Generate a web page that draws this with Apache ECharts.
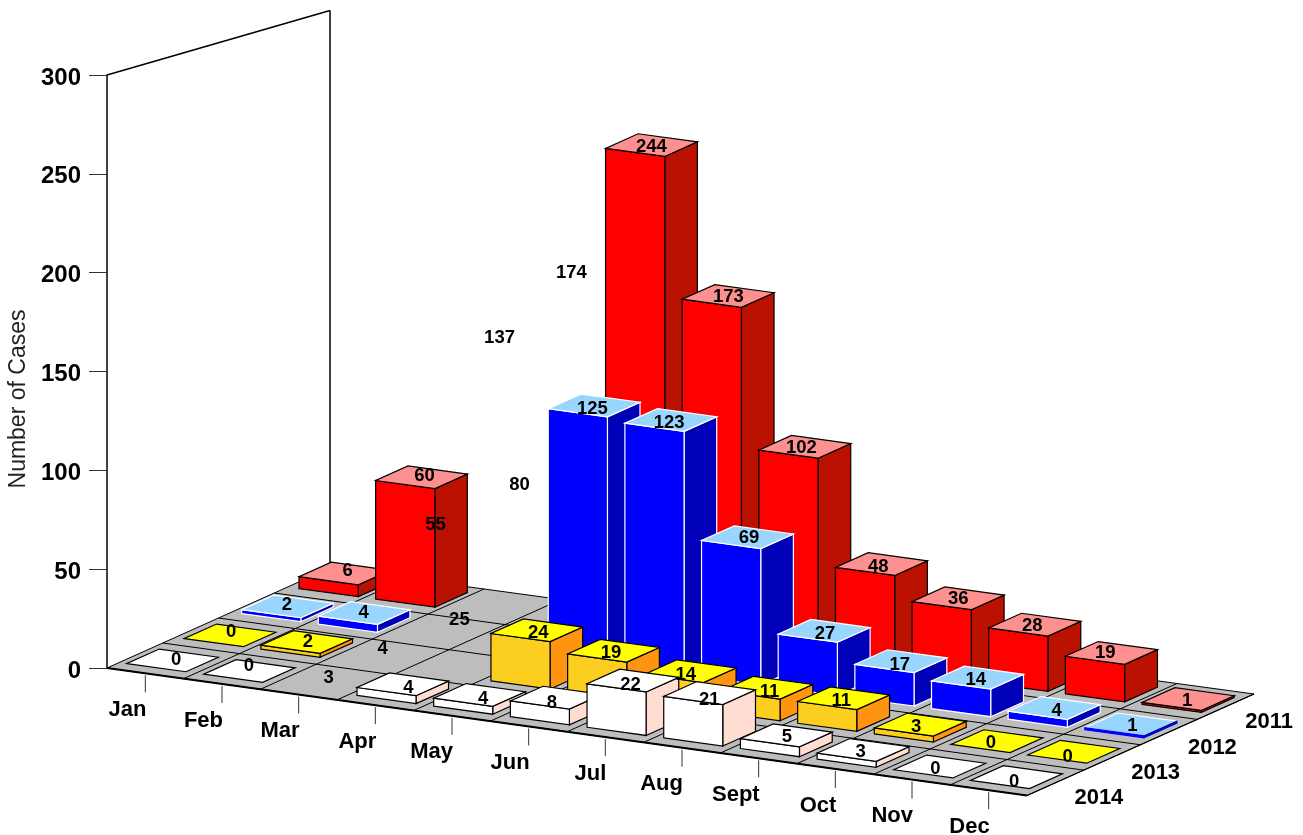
<!DOCTYPE html>
<html><head><meta charset="utf-8">
<style>html,body{margin:0;padding:0;background:#fff}#c{width:1303px;height:835px}</style>
<script src="https://cdn.jsdelivr.net/npm/echarts@6/dist/echarts.min.js"></script>
</head><body><div id="c"></div>
<script>
const months = ['Jan','Feb','Mar','Apr','May','Jun','Jul','Aug','Sept','Oct','Nov','Dec'];
const years = ['2014','2013','2012','2011'];
const valueTicks = [0,50,100,150,200,250,300];
const cases2011 = [6,60,137,174,244,173,102,48,36,28,19,1];
const cases2012 = [2,4,55,80,125,123,69,27,17,14,4,1];
const cases2013 = [0,2,4,25,24,19,14,11,11,3,0,0];
const cases2014 = [0,0,3,4,4,8,22,21,5,3,0,0];
// months whose bar is absent in the picture (only the value label is shown)
const noBar2011 = [2,3];
const noBar2012 = [2,3];
const noBar2013 = [2,3];
const noBar2014 = [2];

const FONT = '"Liberation Sans", Arial, sans-serif';
const rowsData = [cases2014, cases2013, cases2012, cases2011];
const rowsNoBar = [noBar2014, noBar2013, noBar2012, noBar2011];
// small label placement corrections, per row and month (layout only)
const labelDx = [
  [3,-1,2,5,3,-5,-3,-1,0,-3,-5,-3],
  [2,2,0,0,2,-2,-4,3,-2,-4,-6,-6],
  [2,2,-3,4,0,0,3,2,0,-1,3,2],
  [7,7,5,0,3,3,-1,-1,2,-1,-5,0]
];
const labelDy = [
  [-2,-7,0,2,2,3,2,5,0,0,0,3],
  [-5,-2,-2,0,1,0,2,2,1,0,0,3],
  [-3,-2,0,-1,2,1,-1,1,2,0,1,0],
  [-4,-3,0,-2,0,-1,-1,1,-1,-1,-2,0]
];
const skins = [
  {front:'#ffffff', side:'#ffddd0', top:'#ffffff', edge:'#000000'},
  {front:'#fbce20', side:'#ff9411', top:'#ffff00', edge:'#000000'},
  {front:'#0000ff', side:'#0000b8', top:'#99d6ff', edge:'#ffffff'},
  {front:'#ff0000', side:'#bb1100', top:'#ff9090', edge:'#000000'}
];
const BAR = {m0:0.10, m1:0.87, d0:0.22, d1:0.80};
const WALL_TOP = 282;

// oblique projection built on the cartesian axes (x = month, y = cases)
function project(api, m, d, v){
  const c = api.coord([m, v]);
  const base = api.coord([0, 0]);
  const t = m / 12;
  return [
    c[0] + d * (55.75 + t),
    c[1] + (c[0] - base[0]) * 0.1386 - d * (25 + 0.375 * t)
  ];
}
function poly(points, fill, stroke, lw){
  return {type:'polygon', shape:{points}, style:{fill, stroke, lineWidth:lw}};
}
function seg(a, b, stroke, lw){
  return {type:'line', shape:{x1:a[0],y1:a[1],x2:b[0],y2:b[1]}, style:{stroke, lineWidth:lw, fill:null}};
}

const barItems = [], labelItems = [];
rowsData.map((vals, d) => [vals, d]).reverse().forEach(([vals, d]) => {
  vals.forEach((v, m) => {
    if (!rowsNoBar[d].includes(m)) barItems.push([m, v, d]);
    labelItems.push([m, v, d]);
  });
});

function renderFloor(params, api){
  const P = (m, d, v) => project(api, m, d, v || 0);
  const kids = [poly([P(0,0),P(12,0),P(12,4),P(0,4)], '#bdbdbd', '#000', 1)];
  for (let i = 1; i < 12; i++) kids.push(seg(P(i,0),P(i,4),'#000',1));
  for (let j = 1; j < 4; j++) kids.push(seg(P(0,j),P(12,j),'#000',1));
  kids.push(seg(P(0,0),P(12,0),'#000',2));
  kids.push(seg(P(12,0),P(12,4),'#000',1.2));
  // back wall outline
  kids.push(seg(P(0,0,300),P(0,4,WALL_TOP),'#000',1.5));
  kids.push(seg(P(0,4,0),P(0,4,WALL_TOP),'#000',1.5));
  return {type:'group', children:kids};
}
function renderBar(params, api){
  const m = api.value(0), v = api.value(1), d = api.value(2);
  const s = skins[d];
  const x0 = m + BAR.m0, x1 = m + BAR.m1, z0 = d + BAR.d0, z1 = d + BAR.d1;
  const skew = d * (1.6 - 0.1 * m);
  const P = (a, b, h) => { const p = project(api, a, b, h); return [p[0] + skew, p[1]]; };
  const thin = v > 0 && v < 2 && s.edge === '#ffffff';
  const top = poly([P(x0,z0,v),P(x1,z0,v),P(x1,z1,v),P(x0,z1,v)], s.top, s.edge, 1.2);
  const kids = [];
  if (thin) kids.push(top);
  if (v > 0) {
    kids.push(poly([P(x1,z0,0),P(x1,z1,0),P(x1,z1,v),P(x1,z0,v)], s.side, thin ? s.side : s.edge, 1.2));
    kids.push(poly([P(x0,z0,0),P(x1,z0,0),P(x1,z0,v),P(x0,z0,v)], s.front, thin ? s.front : s.edge, 1.2));
  }
  if (!thin) kids.push(top);
  return {type:'group', children:kids};
}
function renderValue(params, api){
  const m = api.value(0), v = api.value(1), d = api.value(2);
  const p = project(api, m + 0.5, d + 0.5, v);
  return {type:'text', style:{x:p[0] + labelDx[d][m], y:p[1] + 1.5 + labelDy[d][m], text:String(v), fill:'#000',
    font:'bold 18.5px '+FONT, align:'center', verticalAlign:'middle'}};
}
function renderMonth(params, api){
  const i = api.value(0);
  const e = project(api, i + 0.5, 0, 0);
  return {type:'group', children:[
    seg([e[0], e[1]+2],[e[0], e[1]+19],'#333',1),
    {type:'text', style:{x:e[0]+1, y:e[1]+36.5, text:months[i], fill:'#000',
      font:'bold 22px '+FONT, align:'right', verticalAlign:'middle'}}
  ]};
}
function renderYear(params, api){
  const j = api.value(0);
  const e = project(api, 12, j + 0.5, 0);
  return {type:'text', style:{x:e[0]+43.5, y:e[1]+15.5, text:years[j], fill:'#000',
    font:'bold 22px '+FONT, align:'center', verticalAlign:'middle'}};
}

const chart = echarts.init(document.getElementById('c'), null, {renderer:'canvas'});
chart.setOption({
  animation:false,
  backgroundColor:'#ffffff',
  grid:{left:107, top:75, width:920, height:593, containLabel:false},
  xAxis:{type:'value', min:0, max:12, interval:1, show:false},
  yAxis:{type:'value', min:0, max:300, interval:50,
    splitLine:{show:false},
    axisLine:{show:true, onZero:false, lineStyle:{color:'#000', width:1.5}},
    axisTick:{show:true, length:18, lineStyle:{color:'#333', width:1}},
    axisLabel:{margin:26, color:'#000', fontFamily:FONT, fontWeight:'bold', fontSize:24,
      verticalAlign:'top', lineHeight:6,
      formatter:v => valueTicks.includes(v) ? String(v) : ''}
  },
  graphic:[{type:'text', rotation:Math.PI/2, x:19, y:399, z:10,
    style:{text:'Number of Cases', fill:'#222', font:'23px '+FONT, align:'center', verticalAlign:'middle'}}],
  series:[
    {type:'custom', name:'floor', coordinateSystem:'cartesian2d', z:1, silent:true, clip:false,
      data:[[0,0]], encode:{x:0,y:1}, renderItem:renderFloor},
    {type:'custom', name:'months', coordinateSystem:'cartesian2d', z:2, silent:true, clip:false,
      data:months.map((_, i) => [i,0]), encode:{x:0,y:1}, renderItem:renderMonth},
    {type:'custom', name:'years', coordinateSystem:'cartesian2d', z:2, silent:true, clip:false,
      data:years.map((_, j) => [j,0]), encode:{x:0,y:1}, renderItem:renderYear},
    {type:'custom', name:'bars', coordinateSystem:'cartesian2d', z:3, silent:true, clip:false,
      data:barItems, encode:{x:0,y:1}, renderItem:renderBar},
    {type:'custom', name:'values', coordinateSystem:'cartesian2d', z:4, silent:true, clip:false,
      data:labelItems, encode:{x:0,y:1}, renderItem:renderValue}
  ]
});
</script></body></html>
